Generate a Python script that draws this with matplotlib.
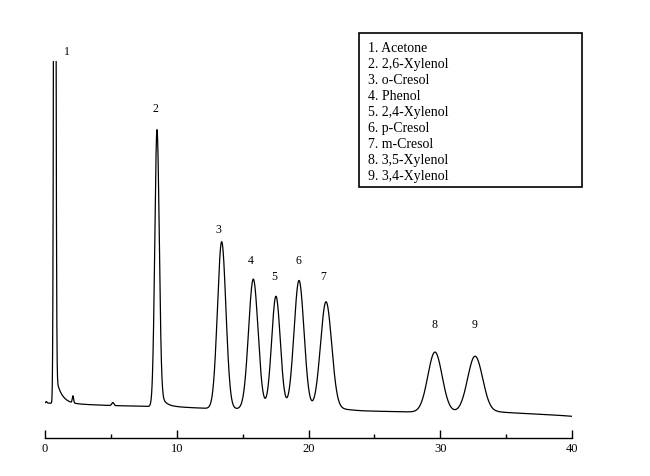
import numpy as np
import matplotlib
matplotlib.use("Agg")
import matplotlib.pyplot as plt
from matplotlib.patches import Rectangle
from matplotlib.ticker import MultipleLocator

plt.rcParams['font.family'] = ['Liberation Serif', 'DejaVu Serif']

# ---- data ----
peak_ids = ["1", "2", "3", "4", "5", "6", "7", "8", "9"]
compounds = ["Acetone", "2,6-Xylenol", "o-Cresol", "Phenol", "2,4-Xylenol",
             "p-Cresol", "m-Cresol", "3,5-Xylenol", "3,4-Xylenol"]
retention = [0.74, 8.50, 13.41, 15.81, 17.53, 19.28, 21.33, 29.60, 32.64]   # min
heights = [1200, 277, 167, 130, 113, 129, 108, 60, 56]                     # above baseline
sigmas = [0.065, 0.165, 0.32, 0.36, 0.33, 0.38, 0.42, 0.54, 0.56]           # min
tail_amp = [32, 24, 0, 0, 0, 0, 4, 0, 3]
tail_tau = [0.43, 0.39, 1.0, 1.0, 1.0, 1.0, 1.0, 1.0, 1.0]

# small unlabeled peaks
minor_rt = [0.10, 2.12, 5.15]
minor_h = [1.5, 7, 3]
minor_sigma = [0.05, 0.05, 0.08]

# baseline drift (time, level)
base_t = [0, 3, 5, 8, 10, 12.5, 15, 20, 22.5, 24, 28, 34.3, 36, 39, 40]
base_s = [35, 33.5, 32.5, 31.5, 31, 29.5, 29, 28.5, 28, 27, 26, 25.7, 24.7, 22.7, 21.7]

# peak label placement (layout)
label_x = [1.67, 8.35, 13.13, 15.63, 17.40, 19.20, 21.10, 29.60, 32.64]
label_y = [388, 331, 210, 179, 163, 179, 163, 115, 115]

# ---- build trace ----
t = np.arange(0, 40.0001, 0.005)
signal = np.interp(t, base_t, base_s)
for rt, h, s, a, tau in zip(retention, heights, sigmas, tail_amp, tail_tau):
    signal += h * np.exp(-0.5 * ((t - rt) / s) ** 2)
    dt = t - rt
    pos = dt > 0
    tail = np.zeros_like(t)
    tail[pos] = a * np.exp(-dt[pos] / tau) * (1 - np.exp(-(dt[pos] / s) ** 2))
    signal += tail
for rt, h, s in zip(minor_rt, minor_h, minor_sigma):
    signal += h * np.exp(-0.5 * ((t - rt) / s) ** 2)

# ---- figure ----
W, H = 650, 477
fig = plt.figure(figsize=(W / 100, H / 100), dpi=100)
ax = fig.add_axes([45 / W, 1 - 439 / H, 527 / W, (439 - 62) / H])
ax.plot(t, signal, color='black', lw=0.9)
ax.set_xlim(0, 40)
ax.set_ylim(0, 377)

for sp in ['left', 'right', 'top']:
    ax.spines[sp].set_visible(False)
ax.spines['bottom'].set_linewidth(1.0)
ax.set_yticks([])
ax.xaxis.set_major_locator(MultipleLocator(10))
ax.xaxis.set_minor_locator(MultipleLocator(5))
ax.tick_params(axis='x', which='major', direction='in', length=5.5, width=1.0,
               labelsize=9, pad=3)
ax.tick_params(axis='x', which='minor', direction='in', length=3, width=1.0)

for pid, lx, ly in zip(peak_ids, label_x, label_y):
    ax.text(lx, ly - 1, pid, ha='center', va='center', fontsize=8.5, clip_on=False)

# legend box
rect = Rectangle((359 / W, 1 - 188.3 / H), (582.3 - 359) / W, (188.3 - 33.7) / H,
                 transform=fig.transFigure, fill=False, edgecolor='black', lw=1.2)
fig.patches.append(rect)
for i, (pid, name) in enumerate(zip(peak_ids, compounds)):
    fig.text(368 / W, 1 - (52.3 + 16 * i) / H, f"{pid}. {name}",
             fontsize=10, va='baseline', ha='left')

fig.savefig("out.png", dpi=100)
